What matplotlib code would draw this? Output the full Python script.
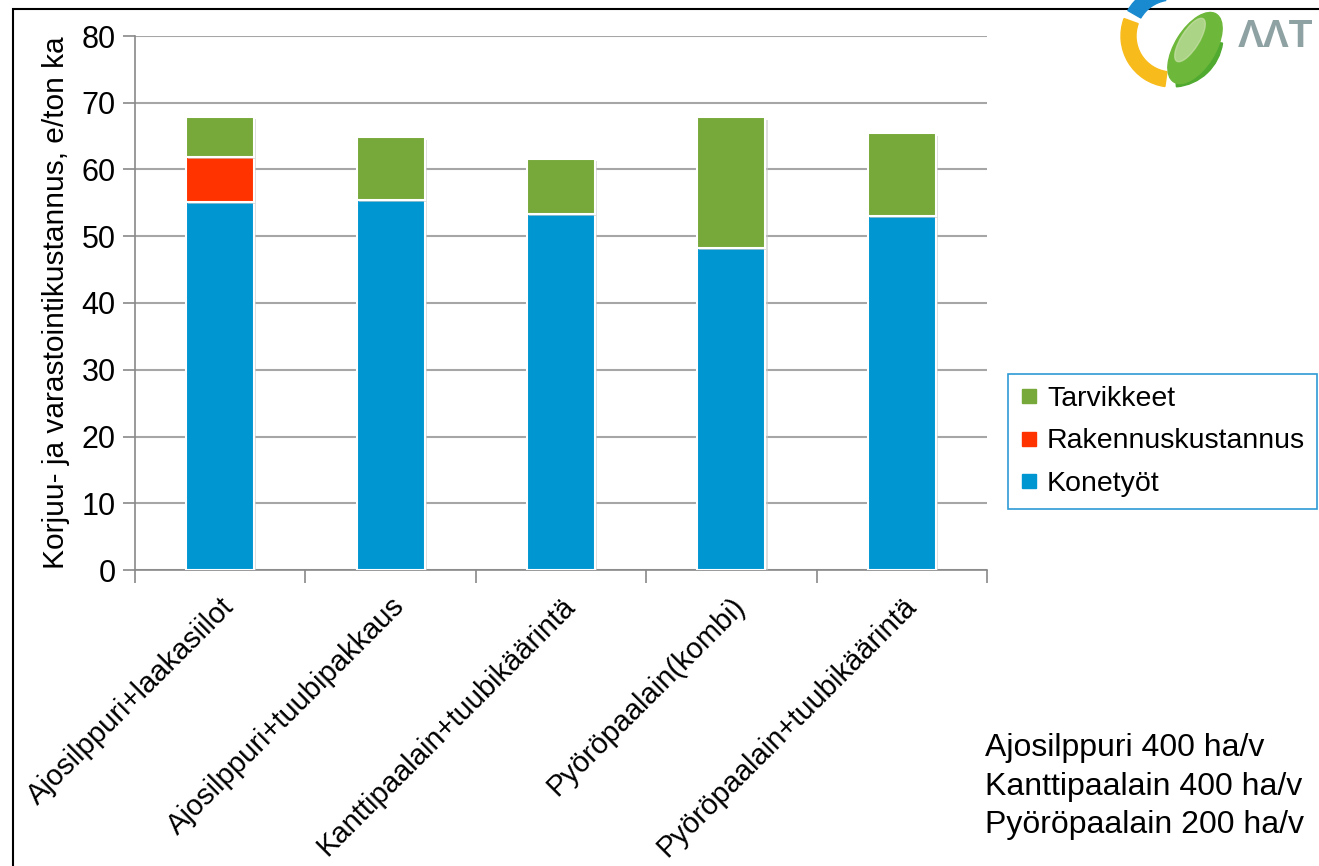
import matplotlib.pyplot as plt
import matplotlib.patheffects as pe
from matplotlib.patches import Wedge, Ellipse, Rectangle
from matplotlib.lines import Line2D
import numpy as np

plt.rcParams['font.family'] = ['Liberation Sans', 'DejaVu Sans']

categories = ['Ajosilppuri+laakasiilot', 'Ajosilppuri+tuubipakkaus',
              'Kanttipaalain+tuubikäärintä', 'Pyöröpaalain(kombi)',
              'Pyöröpaalain+tuubikäärintä']
konetyot = [55.1, 55.4, 53.4, 48.2, 53.0]
rakennus = [6.8, 0, 0, 0, 0]
tarvikkeet = [6.0, 9.4, 8.2, 19.6, 12.4]

c_blue = '#0096D2'
c_red = '#FF3300'
c_green = '#77A83A'

fig = plt.figure(figsize=(13.19, 8.66), dpi=100)
ax = fig.add_axes([135 / 1319, 1 - 570 / 866, 852 / 1319, 534 / 866])

x = np.arange(len(categories))
shadow = [pe.SimplePatchShadow(offset=(1.5, -1.5), shadow_rgbFace='#c8c8c8', alpha=0.6), pe.Normal()]
b1 = ax.bar(x, konetyot, width=0.4, color=c_blue, edgecolor='white', linewidth=1.5, zorder=3)
bottom2 = np.array(konetyot)
b2 = ax.bar(x, rakennus, width=0.4, bottom=bottom2, color=c_red, edgecolor='white', linewidth=1.5, zorder=3)
bottom3 = bottom2 + np.array(rakennus)
b3 = ax.bar(x, tarvikkeet, width=0.4, bottom=bottom3, color=c_green, edgecolor='white', linewidth=1.5, zorder=3)
for bars in (b1, b2, b3):
    for p in bars:
        p.set_path_effects(shadow)

ax.set_xlim(-0.5, len(categories) - 0.5)
ax.set_ylim(0, 80)
ax.set_yticks(range(0, 81, 10))
ax.yaxis.grid(True, color='#a6a6a6', linewidth=1.5, zorder=0)
ax.set_axisbelow(True)

ax.set_xticks(np.arange(-0.5, len(categories), 1))
ax.set_xticklabels([])
ax.set_xticks(x, minor=True)
ax.set_xticklabels(categories, minor=True, rotation=45, ha='right', va='top',
                   rotation_mode='anchor', fontsize=21)
ax.tick_params(axis='x', which='minor', length=0, pad=16)
ax.tick_params(axis='x', which='major', length=9, color='#898989', width=1.2, direction='out')
ax.tick_params(axis='y', length=9, color='#898989', width=1.2, labelsize=22, pad=5)

for s in ['top', 'right']:
    ax.spines[s].set_visible(False)
for s in ['left', 'bottom']:
    ax.spines[s].set_color('#898989')
    ax.spines[s].set_linewidth(1.2)

ax.set_ylabel('Korjuu- ja varastointikustannus, e/ton ka', fontsize=21.5, labelpad=8)

handles = [Line2D([], [], marker='s', linestyle='none', markersize=9.5, color=c) for c in (c_green, c_red, c_blue)]
leg = fig.legend(handles, ['Tarvikkeet', 'Rakennuskustannus', 'Konetyöt'],
                 loc='upper left', bbox_to_anchor=(1008 / 1319, 1 - 374 / 866),
                 fontsize=20.5, frameon=True, fancybox=False, framealpha=1,
                 edgecolor='#2E9BD6', handlelength=0.6, handletextpad=0.35,
                 labelspacing=0.58, borderpad=0.42, borderaxespad=0)
leg.get_frame().set_linewidth(1.2)

fig.text(985 / 1319, 1 - 733 / 866, 'Ajosilppuri 400 ha/v\nKanttipaalain 400 ha/v\nPyöröpaalain 200 ha/v',
         fontsize=23, va='top', ha='left', linespacing=1.38)

# overlay: frame and logo
ov = fig.add_axes([0, 0, 1, 1], zorder=-1)
ov.set_xlim(0, 1319)
ov.set_ylim(0, 866)
ov.axis('off')
ov.add_patch(Rectangle((13, -20), 1400, 866 - 9 + 20, fill=False, edgecolor='black', linewidth=1.5))

ov2 = fig.add_axes([0, 0, 1, 1], zorder=5)
ov2.set_xlim(0, 1319)
ov2.set_ylim(0, 866)
ov2.axis('off')
cx, cy, r = 1172, 830, 51
ov2.add_patch(Wedge((cx, cy), r, 100, 150, width=15, color='#1A8AD0'))
ov2.add_patch(Wedge((cx, cy), r, 160, 262, width=15, color='#F8BB1C'))
ov2.add_patch(Wedge((cx, cy), r, 275, 352, width=15, color='#4FAA2F'))
ov2.add_patch(Ellipse((1195, 818), 80, 40, angle=58, color='#6DB83A'))
ov2.add_patch(Ellipse((1190, 826), 50, 18, angle=58, color='#C8E0A8', alpha=0.7))
ov2.text(1238, 829, 'ΛΛT', fontsize=28, color='#8FA2A3', fontweight='bold', va='center', ha='left')

fig.savefig('out.png', dpi=100)
